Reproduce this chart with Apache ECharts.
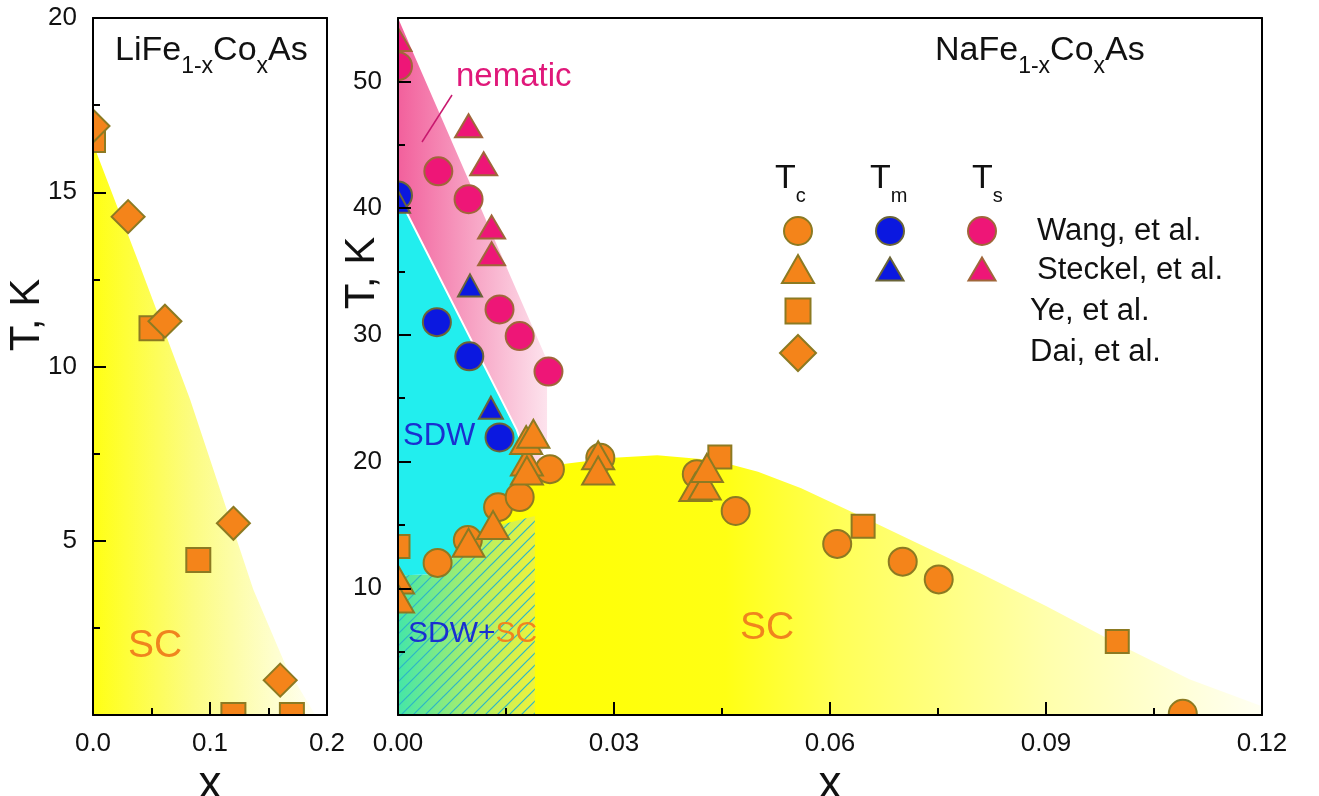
<!DOCTYPE html>
<html>
<head>
<meta charset="utf-8">
<script src="https://cdn.jsdelivr.net/npm/echarts@6/dist/echarts.min.js"></script>
<style>
  html, body { margin: 0; padding: 0; background: #fff; }
  #chart { width: 1319px; height: 796px; }
</style>
</head>
<body>
<div id="chart"></div>
<script>
// ---------- data (x = Co content, T in K) ----------
// LiFe1-xCoxAs, Tc
var liYe  = [[0, 16.5], [0.05, 11.1], [0.09, 4.45], [0.12, 0], [0.17, 0]];
var liDai = [[0, 16.9], [0.03, 14.3], [0.0615, 11.3], [0.12, 5.5], [0.16, 1.0]];

// NaFe1-xCoxAs
var naTcWang    = [[0.0055, 12.0], [0.0097, 13.8], [0.0139, 16.4], [0.0169, 17.2], [0.0211, 19.4], [0.0281, 20.3],
                   [0.0415, 19.0], [0.0469, 16.1], [0.061, 13.5], [0.0701, 12.1], [0.0751, 10.7], [0.109, 0.1]];
var naTcYe      = [[0, 13.3], [0.0447, 20.35], [0.0646, 14.9], [0.0999, 5.8]];
var naTcSteckel = [[0, 10.7], [0, 9.2], [0.0098, 13.6], [0.0132, 15.0], [0.0179, 20.0], [0.0179, 19.3],
                   [0.0178, 21.7], [0.0188, 22.2], [0.0278, 20.5], [0.0278, 19.3], [0.0413, 18.0],
                   [0.0426, 18.1], [0.0429, 19.5]];
var naTmWang    = [[0, 41.0], [0.0054, 31.0], [0.0099, 28.3], [0.0141, 21.9]];
var naTmSteckel = [[0, 40.5], [0.01, 33.9], [0.0129, 24.25]];
var naTsWang    = [[0, 51.2], [0.0056, 42.9], [0.0098, 40.7], [0.0141, 32.0], [0.0169, 29.9], [0.0209, 27.1]];
var naTsSteckel = [[0, 53.3], [0.0098, 46.5], [0.0119, 43.5], [0.013, 38.5], [0.013, 36.4]];

// phase regions (boundary points)
var liSC      = [[0, 0], [0, 16.4], [0.04, 12.9], [0.083, 9.05], [0.137, 3.6], [0.165, 1.4], [0.19, 0]];
var naSC      = [[0.0135, 0], [0.0135, 14.9], [0.017, 17.6], [0.019, 18.6], [0.023, 19.8], [0.03, 20.3],
                 [0.036, 20.5], [0.044, 20.1], [0.05, 19.2], [0.056, 17.9], [0.0646, 15.6], [0.0808, 11.2],
                 [0.09, 8.6], [0.1, 5.6], [0.11, 2.8], [0.12, 0.7], [0.12, 0]];
var naSdwSc   = [[0, 0], [0, 11], [0.0045, 11.1], [0.0089, 12.9], [0.0135, 14.9], [0.019, 15.7], [0.019, 0]];
var naSDW     = [[0, 41], [0.0165, 22.5], [0.0188, 18.8], [0.017, 17.8], [0.0135, 14.9], [0.0089, 12.9],
                 [0.0045, 11.1], [0, 11]];
var naNematic = [[0, 55], [0.0207, 28], [0.0207, 21.8], [0.0188, 18.8], [0.0165, 22.5], [0, 41]];
var naSdwEdge = [[0, 41], [0.0165, 22.5], [0.0188, 18.8]];

var liYTicks = [5, 10, 15, 20];
var naYTicks = [10, 20, 30, 40, 50];
var naYMinor = [5, 15, 25, 35, 45];

// ---------- styles ----------
var FONT = '"Liberation Sans", Arial, sans-serif';
var ORANGE = '#f4841a', OR_EDGE = '#8c7a22';
var BLUE = '#0b18e0', BL_EDGE = '#6a6438';
var PINK = '#ee1677', PK_EDGE = '#a0663a';

var myChart = echarts.init(document.getElementById('chart'));

// diagonal hatch pattern
var hatch = document.createElement('canvas');
hatch.width = 12; hatch.height = 12;
var hc = hatch.getContext('2d');
hc.strokeStyle = '#2cb6c6';
hc.lineWidth = 1.2;
hc.beginPath();
hc.moveTo(-1, 13); hc.lineTo(13, -1);
hc.moveTo(-1, 1); hc.lineTo(1, -1);
hc.moveTo(11, 13); hc.lineTo(13, 11);
hc.stroke();

// text width helper for subscripts
var mctx = document.createElement('canvas').getContext('2d');
function textW(s, size) { mctx.font = size + 'px ' + FONT; return mctx.measureText(s).width; }

function grad(stops) {
  return new echarts.graphic.LinearGradient(0, 0, 1, 0, stops.map(function (s) {
    return { offset: s[0], color: s[1] };
  }));
}

function region(pts, axis, fill, overlay) {
  return {
    type: 'custom', xAxisIndex: axis, yAxisIndex: axis, clip: true, silent: true, z: 1,
    data: [[0, 0]],
    renderItem: function (params, api) {
      var p = pts.map(function (d) { return api.coord(d); });
      var ch = [{ type: 'polygon', shape: { points: p }, style: { fill: fill } }];
      if (overlay) ch.push({ type: 'polygon', shape: { points: p }, style: { fill: overlay } });
      return { type: 'group', children: ch };
    }
  };
}

function edge(pts, axis) {
  return {
    type: 'custom', xAxisIndex: axis, yAxisIndex: axis, clip: true, silent: true, z: 1,
    data: [[0, 0]],
    renderItem: function (params, api) {
      return { type: 'polyline', shape: { points: pts.map(function (d) { return api.coord(d); }) },
               style: { stroke: '#fff', lineWidth: 2, fill: null } };
    }
  };
}

function markers(name, axis, data, shape, w, h, color, border) {
  return {
    type: 'custom', name: name, xAxisIndex: axis, yAxisIndex: axis, clip: true, z: 3,
    itemStyle: { color: color, borderColor: border, borderWidth: 2 },
    data: data,
    renderItem: function (params, api) {
      var c = api.coord([api.value(0), api.value(1)]);
      var st = { fill: color, stroke: border, lineWidth: 2 };
      var x = c[0], y = c[1];
      if (shape === 'circle') return { type: 'circle', shape: { cx: x, cy: y, r: w / 2 }, style: st };
      if (shape === 'rect') return { type: 'rect', shape: { x: x - w / 2, y: y - h / 2, width: w, height: h }, style: st };
      if (shape === 'triangle') return { type: 'polygon', shape: { points: [[x, y - h / 2], [x + w / 2, y + h / 2], [x - w / 2, y + h / 2]] }, style: st };
      return { type: 'polygon', shape: { points: [[x, y - h / 2], [x + w / 2, y], [x, y + h / 2], [x - w / 2, y]] }, style: st };
    }
  };
}

function legendAt(name, icon, cx, cy, w, h, color, border) {
  return {
    data: [{ name: name, icon: icon, itemStyle: { color: color, borderColor: border, borderWidth: 2 } }],
    left: cx - w / 2, top: cy - h / 2, itemWidth: w, itemHeight: h, padding: 0, itemGap: 0,
    selectedMode: false, formatter: function () { return ''; }, textStyle: { fontSize: 8 }
  };
}

var axisLine = { show: true, onZero: false, lineStyle: { color: '#000', width: 2 } };
var tick = { show: true, inside: true, length: 13, lineStyle: { color: '#000', width: 2 } };
var minor = { show: true, splitNumber: 2, length: 7, lineStyle: { color: '#000', width: 2 } };
var lbl = { fontSize: 26, color: '#111', fontFamily: FONT, margin: 16 };
var nameStyle = { fontSize: 46, color: '#111', fontFamily: FONT };

function border(grid, pos, max) {
  return {
    type: 'value', gridIndex: grid, position: pos, min: 0, max: max, z: 10,
    axisLine: axisLine, axisTick: { show: false }, axisLabel: { show: false }, splitLine: { show: false }
  };
}

function txt(x, y, text, size, color, extra) {
  var o = { type: 'text', x: x, y: y, z: 20, silent: true,
            style: { text: text, fontSize: size, fontFamily: FONT, fill: color, align: 'left', verticalAlign: 'middle' } };
  if (extra) for (var k in extra) o[k] = extra[k];
  return o;
}

// text with subscripts: parts = [[text, isSub], ...], positioned by baseline
function formula(x, base, parts, big, small, drop) {
  var out = [], cx = x;
  parts.forEach(function (p) {
    var sz = p[1] ? small : big;
    var b = base + (p[1] ? drop : 0);
    out.push(txt(cx, b - 0.35 * sz, p[0], sz, '#111'));
    cx += textW(p[0], sz);
  });
  return out;
}

var graphics = []
  .concat(formula(115, 63, [['LiFe', 0], ['1-x', 1], ['Co', 0], ['x', 1], ['As', 0]], 34, 23, 12))
  .concat(formula(935, 63, [['NaFe', 0], ['1-x', 1], ['Co', 0], ['x', 1], ['As', 0]], 34, 23, 12))
  .concat(formula(775, 191, [['T', 0], ['c', 1]], 34, 20, 12))
  .concat(formula(870, 191, [['T', 0], ['m', 1]], 34, 20, 12))
  .concat(formula(972, 191, [['T', 0], ['s', 1]], 34, 20, 12))
  .concat([
    txt(1037, 231, 'Wang, et al.', 31, '#111'),
    txt(1037, 270, 'Steckel, et al.', 31, '#111'),
    txt(1030, 311, 'Ye, et al.', 31, '#111'),
    txt(1030, 352, 'Dai, et al.', 31, '#111'),
    txt(27, 315, 'T, K', 42, '#111', { rotation: Math.PI / 2 }),
    txt(362, 273, 'T, K', 42, '#111', { rotation: Math.PI / 2 }),
    txt(456, 77, 'nematic', 33, '#e0187a'),
    txt(403, 436, 'SDW', 31, '#1a2fd0'),
    txt(408, 634, 'SDW+', 30, '#1a2fd0'),
    txt(408 + textW('SDW+', 30), 634, 'SC', 30, '#f0841e'),
    txt(740, 628, 'SC', 39, '#f0841e'),
    txt(128, 646, 'SC', 39, '#f0841e'),
    { type: 'line', z: 20, silent: true, shape: { x1: 452, y1: 95, x2: 422, y2: 142 }, style: { stroke: '#c8186e', lineWidth: 1.5 } }
  ]);
// the two "T, K" labels are centred on their point
graphics.forEach(function (g) { if (g.style && g.style.text === 'T, K') g.style.align = 'center'; });

var option = {
  backgroundColor: '#fff',
  animation: false,
  grid: [
    { left: 93, top: 18, width: 234, height: 697, outerBoundsMode: 'none' },
    { left: 398, top: 18, width: 864, height: 697, outerBoundsMode: 'none' }
  ],
  xAxis: [
    { type: 'value', gridIndex: 0, position: 'bottom', min: 0, max: 0.2, interval: 0.1, z: 10,
      axisLine: axisLine, axisTick: tick, minorTick: minor, splitLine: { show: false },
      axisLabel: Object.assign({ formatter: function (v) { return v.toFixed(1); } }, lbl),
      name: 'x', nameLocation: 'middle', nameGap: 30, nameTextStyle: nameStyle },
    border(0, 'top', 0.2),
    { type: 'value', gridIndex: 1, position: 'bottom', min: 0, max: 0.12, interval: 0.03, z: 10,
      axisLine: axisLine, axisTick: tick, minorTick: minor, splitLine: { show: false },
      axisLabel: Object.assign({ formatter: function (v) { return v.toFixed(2); } }, lbl),
      name: 'x', nameLocation: 'middle', nameGap: 30, nameTextStyle: nameStyle },
    border(1, 'top', 0.12)
  ],
  yAxis: [
    { type: 'value', gridIndex: 0, position: 'left', min: 0, max: 20, interval: 5, z: 10,
      axisLine: axisLine, axisTick: tick, minorTick: minor, splitLine: { show: false },
      axisLabel: Object.assign({ customValues: liYTicks }, lbl) },
    border(0, 'right', 20),
    { type: 'value', gridIndex: 1, position: 'left', min: 0, max: 55, interval: 10, z: 10,
      axisLine: axisLine, splitLine: { show: false },
      axisTick: Object.assign({ customValues: naYTicks }, tick),
      axisLabel: Object.assign({ customValues: naYTicks }, lbl) },
    border(1, 'right', 55),
    { type: 'value', gridIndex: 1, position: 'left', min: 0, max: 55, z: 10,
      axisLine: { show: false }, axisLabel: { show: false }, splitLine: { show: false },
      axisTick: { show: true, inside: true, length: 7, customValues: naYMinor, lineStyle: { color: '#000', width: 2 } } }
  ],
  legend: [
    legendAt('Tc Wang', 'circle', 797, 230, 28, 28, ORANGE, OR_EDGE),
    legendAt('Tc Steckel', 'triangle', 797, 268, 32, 28, ORANGE, OR_EDGE),
    legendAt('Tc Ye', 'rect', 797, 310, 25, 25, ORANGE, OR_EDGE),
    legendAt('Tc Dai', 'diamond', 797, 352, 36, 36, ORANGE, OR_EDGE),
    legendAt('Tm Wang', 'circle', 889, 230, 28, 28, BLUE, BL_EDGE),
    legendAt('Tm Steckel', 'triangle', 889, 268, 27, 23, BLUE, BL_EDGE),
    legendAt('Ts Wang', 'circle', 981, 230, 28, 28, PINK, PK_EDGE),
    legendAt('Ts Steckel', 'triangle', 981, 268, 27, 23, PINK, PK_EDGE)
  ],
  graphic: graphics,
  series: [
    region(liSC, 0, grad([[0, '#ffff14'], [0.45, '#fcfc82'], [1, '#fffff4']])),
    region(naSC, 2, grad([[0, '#ffff00'], [0.3, '#ffff14'], [0.45, '#ffff58'], [0.72, '#ffffac'], [1, '#fffff2']])),
    region(naSdwSc, 2, grad([[0, '#44e6a8'], [0.5, '#a6ee6e'], [1, '#eef23c']]), { image: hatch, repeat: 'repeat' }),
    region(naNematic, 2, grad([[0, '#f2609c'], [0.5, '#f7a3c4'], [1, '#fde3ed']])),
    region(naSDW, 2, '#22eeee'),
    edge(naSdwEdge, 2),
    markers('Tc Ye (Li)', 0, liYe, 'rect', 24, 24, ORANGE, OR_EDGE),
    markers('Tc Dai', 0, liDai, 'diamond', 33, 33, ORANGE, OR_EDGE),
    markers('Tc Wang', 2, naTcWang, 'circle', 28, 28, ORANGE, OR_EDGE),
    markers('Tc Ye', 2, naTcYe, 'rect', 23, 23, ORANGE, OR_EDGE),
    markers('Tc Steckel', 2, naTcSteckel, 'triangle', 32, 28, ORANGE, OR_EDGE),
    markers('Tm Wang', 2, naTmWang, 'circle', 28, 28, BLUE, BL_EDGE),
    markers('Tm Steckel', 2, naTmSteckel, 'triangle', 24, 22, BLUE, BL_EDGE),
    markers('Ts Wang', 2, naTsWang, 'circle', 28, 28, PINK, PK_EDGE),
    markers('Ts Steckel', 2, naTsSteckel, 'triangle', 27, 23, PINK, PK_EDGE)
  ]
};

myChart.setOption(option);
</script>
</body>
</html>
